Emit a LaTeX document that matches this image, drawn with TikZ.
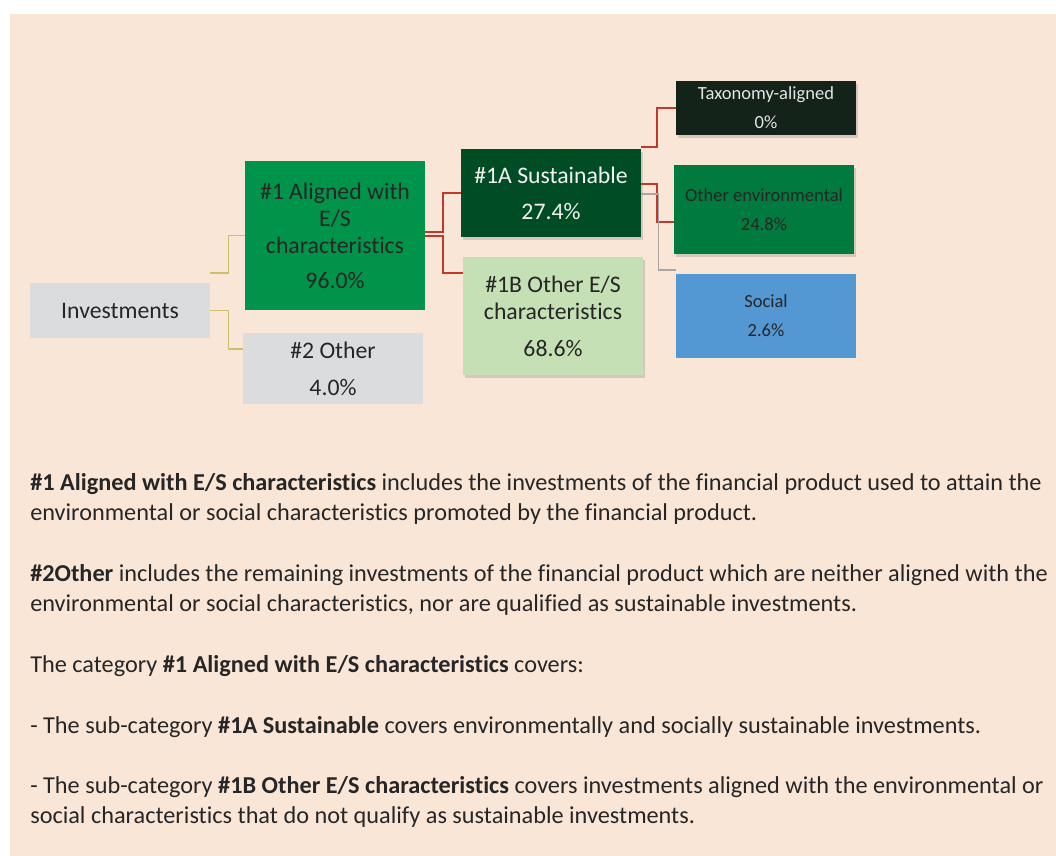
\documentclass[tikz,border=0pt]{standalone}
\usepackage{fontspec}
\setmainfont[Ligatures=NoCommon]{Carlito}
\definecolor{Peach}{RGB}{250,230,215}
\definecolor{BoxGray}{RGB}{219,220,222}
\definecolor{AlignGreen}{RGB}{0,147,74}
\definecolor{SustGreen}{RGB}{0,77,37}
\definecolor{OtherGreen}{RGB}{197,224,180}
\definecolor{TaxGreen}{RGB}{19,35,26}
\definecolor{EnvGreen}{RGB}{0,122,62}
\definecolor{SocBlue}{RGB}{83,151,211}
\definecolor{LinkRed}{RGB}{192,57,43}
\definecolor{LinkOlive}{RGB}{205,191,110}
\definecolor{LinkGray}{RGB}{166,166,166}
\definecolor{TextDark}{RGB}{38,38,38}
\usepackage{tikz}
\usetikzlibrary{shadows}

\begin{document}
\begin{tikzpicture}[x=0.75pt, y=-0.75pt, bx/.style={minimum width=135pt, inner sep=0pt, align=center, text=TextDark, font=\fontsize{17.8}{20.25}\selectfont}, sm/.style={bx, font=\fontsize{13.9}{21.75}\selectfont}, sh/.style={drop shadow={shadow xshift=1.5pt, shadow yshift=-2pt, opacity=0.3}}, ol/.style={LinkOlive, line width=1.1pt}, rd/.style={LinkRed, line width=1.5pt}, gy/.style={LinkGray, line width=1.1pt}, para/.style={anchor=base west, align=left, inner sep=0pt, text=TextDark, font=\fontsize{18.2}{22.1}\selectfont}]
\useasboundingbox (0,0) rectangle (1056,856);
\fill[Peach] (10,14) rectangle (1056,856);
\node[bx, fill=BoxGray, minimum height=41.25pt] (inv) at (120,310.5) {Investments};
\node[bx, fill=AlignGreen, minimum height=111.75pt] (al) at (335,235.5) {\#1 Aligned with\\E/S\\characteristics\\[6pt]96.0\%};
\node[bx, fill=BoxGray, minimum height=53.25pt] (ot) at (333,368.5) {\#2 Other\\[7.5pt]4.0\%};
\node[bx, sh, fill=SustGreen, text=white!95!black, minimum height=66pt] (sa) at (551,193) {\#1A Sustainable\\[6.75pt]27.4\%};
\node[bx, sh, fill=OtherGreen, minimum height=88.5pt] (sb) at (553,316) {\#1B Other E/S\\characteristics\\[7.5pt]68.6\%};
\node[sm, sh, fill=TaxGreen, text=white!90!black, minimum height=40.5pt] (tx) at (766,108) {Taxonomy-aligned\\0\%};
\node[sm, sh, fill=EnvGreen, minimum height=66.75pt] (oe) at (764,209.5) {Other environmental\\24.8\%};
\node[sm, fill=SocBlue, minimum height=63pt] (so) at (766,316) {Social\\2.6\%};
% links
\draw[ol] ([yshift=28.1pt]inv.east) -- ++(18,0) |- (al.west);
\draw[ol] (inv.east) -- ++(18,0) |- ([yshift=14.6pt]ot.west);
\draw[rd] ([yshift=3pt]al.east) -- ++(18,0) |- (sa.west);
\draw[rd] (al.east) -- ++(18,0) |- ([yshift=32.25pt]sb.west);
\draw[rd] ([yshift=34.5pt]sa.east) -- ++(16,0) |- (tx.west);
\draw[rd] ([yshift=6.75pt]sa.east) -- ++(16,0) |- ([yshift=-9.4pt]oe.west);
\draw[gy] ([yshift=-0.75pt]sa.east) -- ++(17,0) |- ([yshift=34.5pt]so.west);
% notes
\node[para] (p1) at (30,520) {\textbf{\#1 Aligned with E/S characteristics} includes the investments of the financial product used to attain the\\environmental or social characteristics promoted by the financial product.};
\node[para] (p2) at (30,611) {\textbf{\#2Other} includes the remaining investments of the financial product which are neither aligned with the\\environmental or social characteristics, nor are qualified as sustainable investments.};
\node[para] (p3) at (30,672) {The category \textbf{\#1 Aligned with E/S characteristics} covers:};
\node[para] (p4) at (30,733) {- The sub-category \textbf{\#1A Sustainable} covers environmentally and socially sustainable investments.};
\node[para] (p5) at (30,823) {- The sub-category \textbf{\#1B Other E/S characteristics} covers investments aligned with the environmental or\\social characteristics that do not qualify as sustainable investments.};
\end{tikzpicture}
\end{document}
